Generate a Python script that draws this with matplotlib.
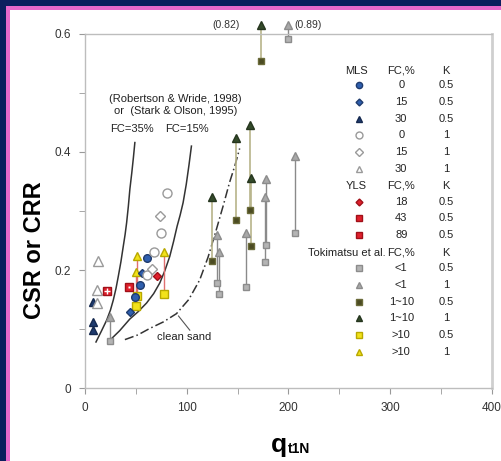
import matplotlib
matplotlib.use("Agg")
import matplotlib.pyplot as plt
from matplotlib.patches import Rectangle

plt.rcParams['font.family'] = ['Liberation Sans', 'DejaVu Sans']

# ---- data (q_t1N, CSR/CRR) ----
# MLS, K = 0.5 (filled) and K = 1 (open)
mls_fc0_k05_q = [60.5, 53.9, 49.0]
mls_fc0_k05_y = [0.220, 0.175, 0.155]
mls_fc15_k05_q = [55.6, 44.1]
mls_fc15_k05_y = [0.195, 0.129]
mls_fc30_k05_q = [7.5, 7.5, 7.5]
mls_fc30_k05_y = [0.146, 0.112, 0.098]
mls_fc0_k1_q = [80.7, 74.5, 67.6, 60.5]
mls_fc0_k1_y = [0.330, 0.263, 0.231, 0.192]
mls_fc15_k1_q = [73.5, 66.3]
mls_fc15_k1_y = [0.291, 0.201]
mls_fc30_k1_q = [13.1, 12.1, 12.1]
mls_fc30_k1_y = [0.216, 0.166, 0.1435]

# YLS, K = 0.5
yls_fc18_q = [70.3]
yls_fc18_y = [0.190]
yls_fc43_q = [43.5]
yls_fc43_y = [0.171]
yls_fc89_q = [21.2]
yls_fc89_y = [0.165]

# Tokimatsu et al.: q, CSR at K=0.5 (square), CSR at K=1 (triangle)
toki_lt1_q = [24.5, 129.7, 131.7, 158.5, 178.0, 177.0, 206.0, 200.0]
toki_lt1_k05 = [0.079, 0.178, 0.159, 0.172, 0.243, 0.213, 0.262, 0.591]
toki_lt1_k1 = [0.120, 0.260, 0.231, 0.262, 0.354, 0.324, 0.393, 0.615]
toki_1to10_q = [124.7, 148.0, 161.8, 163.4, 172.5]
toki_1to10_k05 = [0.216, 0.285, 0.302, 0.240, 0.555]
toki_1to10_k1 = [0.324, 0.423, 0.446, 0.356, 0.615]
toki_gt10_q = [51.3, 50.0, 77.5]
toki_gt10_k05 = [0.156, 0.139, 0.159]
toki_gt10_k1 = [0.224, 0.197, 0.231]

# boundary curves (Robertson & Wride / Stark & Olson), read point by point
fc35_q = [10.8, 16.0, 21.3, 25.0, 27.8, 30.5, 32.7, 35.3, 37.6, 39.4, 40.9, 42.6, 44.1, 46.0, 47.6, 49.0]
fc35_y = [0.078, 0.096, 0.115, 0.132, 0.149, 0.169, 0.189, 0.214, 0.240, 0.260, 0.280, 0.308, 0.337, 0.365, 0.391, 0.416]
fc15_q = [24.5, 34.0, 44.1, 52.0, 60.5, 67.5, 73.5, 78.5, 83.3, 87.0, 90.5, 93.5, 96.4, 99.5, 102.2, 104.6]
fc15_y = [0.081, 0.097, 0.117, 0.129, 0.144, 0.160, 0.178, 0.199, 0.223, 0.248, 0.274, 0.293, 0.314, 0.345, 0.378, 0.410]
clean_q = [39.2, 52.0, 63.7, 77.0, 89.9, 102.0, 112.7, 121.0, 129.0, 136.0, 142.0, 147.5, 152.0]
clean_y = [0.082, 0.090, 0.101, 0.112, 0.126, 0.150, 0.183, 0.222, 0.268, 0.310, 0.348, 0.378, 0.406]

x_ticks = [0, 100, 200, 300, 400]
y_ticks = [0, 0.2, 0.4, 0.6]

# colours
NAVY = '#0b1f5e'
PINK = '#e868cc'
BLUE = '#2f5fae'
DKBLUE = '#1f3b6e'
OPEN = '#9a9a9a'
RED = '#e0202c'
GRAY_SQ = '#b4b4b4'
GRAY_TRI = '#a8a8a8'
OLIVE = '#4b4b22'
DKGREEN = '#334a2a'
YELLOW = '#f2e21a'

fig = plt.figure(figsize=(5.02, 4.61), dpi=100)
fig.patch.set_facecolor(NAVY)
W, H = 502.0, 461.0
fig.patches.append(Rectangle((6 / W, 0), 1, (H - 6) / H, transform=fig.transFigure,
                             facecolor=PINK, edgecolor='none', zorder=-2))
fig.patches.append(Rectangle((10 / W, 0), 1, (H - 10) / H, transform=fig.transFigure,
                             facecolor='white', edgecolor='none', zorder=-1))

ax = fig.add_axes([85 / W, 1 - 388 / H, (492 - 85) / W, (388 - 34) / H])
ax.set_facecolor('white')
ax.set_xlim(0, 400)
ax.set_ylim(0, 0.6)

for s in ax.spines.values():
    s.set_color('#bdbdbd')
    s.set_linewidth(1.0)
ax.spines['right'].set_linewidth(2.0)
ax.spines['right'].set_color('#cfcfcf')

ax.set_xticks(x_ticks)
ax.set_xticks([50, 150, 250, 350], minor=True)
ax.set_yticks(y_ticks)
ax.set_yticklabels(['0', '0.2', '0.4', '0.6'])
ax.set_yticks([0.1, 0.3, 0.5], minor=True)
ax.tick_params(which='both', direction='out', length=4, color='#999999',
               labelsize=8.5, labelcolor='#333333', pad=6)

# curves
ax.plot(fc35_q, fc35_y, color='#333333', lw=1.1, zorder=2)
ax.plot(fc15_q, fc15_y, color='#333333', lw=1.1, zorder=2)
ax.plot(clean_q, clean_y, color='#333333', lw=1.1, ls=(0, (6, 2, 1, 2)), zorder=2)

# Tokimatsu connecting lines
for q, a, b in zip(toki_lt1_q, toki_lt1_k05, toki_lt1_k1):
    ax.plot([q, q], [a, b], color='#8a8a8a', lw=1.0, zorder=2, clip_on=False)
for q, a, b in zip(toki_1to10_q, toki_1to10_k05, toki_1to10_k1):
    ax.plot([q, q], [a, b], color='#b8b48a', lw=1.2, zorder=2, clip_on=False)
for q, a, b in zip(toki_gt10_q, toki_gt10_k05, toki_gt10_k1):
    ax.plot([q, q], [a, b], color='#e07070', lw=1.0, zorder=2, clip_on=False)

mk = dict(ls='none', zorder=4, clip_on=False)
ax.plot(toki_lt1_q, toki_lt1_k05, marker='s', ms=5, mfc=GRAY_SQ, mec='#8c8c8c', **mk)
ax.plot(toki_lt1_q, toki_lt1_k1, marker='^', ms=5.5, mfc=GRAY_TRI, mec='#8c8c8c', **mk)
ax.plot(toki_1to10_q, toki_1to10_k05, marker='s', ms=5, mfc=OLIVE, mec='#6b6b3a', **mk)
ax.plot(toki_1to10_q, toki_1to10_k1, marker='^', ms=5.5, mfc=DKGREEN, mec='#25351e', **mk)
ax.plot(toki_gt10_q, toki_gt10_k05, marker='s', ms=5.5, mfc=YELLOW, mec='#b8a800', **mk)
ax.plot(toki_gt10_q, toki_gt10_k1, marker='^', ms=6, mfc=YELLOW, mec='#b8a800', **mk)

ax.plot(mls_fc0_k05_q, mls_fc0_k05_y, marker='o', ms=5.5, mfc=BLUE, mec=DKBLUE, **mk)
ax.plot(mls_fc15_k05_q, mls_fc15_k05_y, marker='D', ms=4, mfc=BLUE, mec=DKBLUE, **mk)
ax.plot(mls_fc30_k05_q, mls_fc30_k05_y, marker='^', ms=6, mfc=DKBLUE, mec='#14284e', **mk)
ax.plot(mls_fc0_k1_q, mls_fc0_k1_y, marker='o', ms=6.5, mfc='white', mec=OPEN, mew=1.0, **mk)
ax.plot(mls_fc15_k1_q, mls_fc15_k1_y, marker='D', ms=5, mfc='white', mec=OPEN, mew=1.0, **mk)
ax.plot(mls_fc30_k1_q, mls_fc30_k1_y, marker='^', ms=6.5, mfc='white', mec=OPEN, mew=1.0, **mk)

ax.plot(yls_fc18_q, yls_fc18_y, marker='D', ms=4, mfc=RED, mec='#a01018', **mk)
ax.plot(yls_fc43_q, yls_fc43_y, marker='s', ms=6, mfc=RED, mec='#a01018', **mk)
ax.plot(yls_fc43_q, yls_fc43_y, marker='s', ms=2, mfc='white', mec='none', ls='none', zorder=5)
ax.plot(yls_fc89_q, yls_fc89_y, marker='s', ms=6, mfc=RED, mec='#a01018', **mk)
ax.plot(yls_fc89_q, yls_fc89_y, marker='+', ms=4, mec='white', mew=1.0, ls='none', zorder=5)

# off-scale values
ax.text(toki_1to10_q[-1] - 20, toki_1to10_k1[-1], '(0.82)', fontsize=7.5, color='#333333',
        ha='right', va='center', clip_on=False)
ax.text(toki_lt1_q[-1] + 6, toki_lt1_k1[-1], '(0.89)', fontsize=7.5, color='#333333',
        ha='left', va='center', clip_on=False)

# annotations
tc = '#222222'
ax.text(89, 0.49, '(Robertson & Wride, 1998)', fontsize=8, color=tc, ha='center', va='center')
ax.text(89, 0.469, 'or  (Stark & Olson, 1995)', fontsize=8, color=tc, ha='center', va='center')
ax.text(45.7, 0.439, 'FC=35%', fontsize=8, color=tc, ha='center', va='center')
ax.text(100, 0.439, 'FC=15%', fontsize=8, color=tc, ha='center', va='center')
ax.text(97, 0.087, 'clean sand', fontsize=8, color=tc, ha='center', va='center')
ax.plot([91.9, 103], [0.122, 0.098], color='#555555', lw=0.8)

# legend table
sym_x, fc_x, k_x = 269.6, 310.8, 355.0
fs = 8
def header(y, name, x=266.7):
    ax.text(x, y, name, fontsize=fs, ha='center', va='center', color=tc)
    ax.text(fc_x, y, 'FC,%', fontsize=fs, ha='center', va='center', color=tc)
    ax.text(k_x, y, 'K', fontsize=fs, ha='center', va='center', color=tc)

def row(y, fc, k, **style):
    ax.plot([sym_x], [y], ls='none', zorder=4, **style)
    ax.text(fc_x, y, fc, fontsize=fs, ha='center', va='center', color=tc)
    ax.text(k_x, y, k, fontsize=fs, ha='center', va='center', color=tc)

step = 0.0283
header(0.538, 'MLS')
mls_rows = [
    ('0', '0.5', dict(marker='o', ms=4.5, mfc=BLUE, mec=DKBLUE)),
    ('15', '0.5', dict(marker='D', ms=3.5, mfc=BLUE, mec=DKBLUE)),
    ('30', '0.5', dict(marker='^', ms=5, mfc=DKBLUE, mec='#14284e')),
    ('0', '1', dict(marker='o', ms=5, mfc='white', mec=OPEN)),
    ('15', '1', dict(marker='D', ms=4, mfc='white', mec=OPEN)),
    ('30', '1', dict(marker='^', ms=5, mfc='white', mec=OPEN)),
]
for i, (fc, k, st) in enumerate(mls_rows):
    row(0.513 - i * step, fc, k, **st)

header(0.343, 'YLS')
yls_rows = [
    ('18', '0.5', dict(marker='D', ms=3.5, mfc=RED, mec='#a01018')),
    ('43', '0.5', dict(marker='s', ms=4.5, mfc=RED, mec='#a01018')),
    ('89', '0.5', dict(marker='s', ms=4.5, mfc=RED, mec='#a01018')),
]
for i, (fc, k, st) in enumerate(yls_rows):
    row(0.316 - i * step, fc, k, **st)

header(0.229, 'Tokimatsu et al.', x=256.9)
toki_rows = [
    ('<1', '0.5', dict(marker='s', ms=4.5, mfc=GRAY_SQ, mec='#8c8c8c')),
    ('<1', '1', dict(marker='^', ms=4.5, mfc=GRAY_TRI, mec='#8c8c8c')),
    ('1~10', '0.5', dict(marker='s', ms=4.5, mfc=OLIVE, mec='#6b6b3a')),
    ('1~10', '1', dict(marker='^', ms=4.5, mfc=DKGREEN, mec='#25351e')),
    ('>10', '0.5', dict(marker='s', ms=4.5, mfc=YELLOW, mec='#b8a800')),
    ('>10', '1', dict(marker='^', ms=4.5, mfc=YELLOW, mec='#b8a800')),
]
for i, (fc, k, st) in enumerate(toki_rows):
    row(0.203 - i * step, fc, k, **st)

# axis titles
fig.text(35 / W, 1 - 250 / H, 'CSR or CRR', rotation=90, fontsize=17, fontweight='bold',
         ha='center', va='center', color='black')
fig.text(287 / W, 1 - 452 / H, 'q', fontsize=19, fontweight='bold', ha='right', va='baseline')
fig.text(287.5 / W, 1 - 453 / H, 't1N', fontsize=10, fontweight='bold', ha='left', va='baseline')

fig.savefig('out.png', dpi=100, facecolor=fig.get_facecolor())
